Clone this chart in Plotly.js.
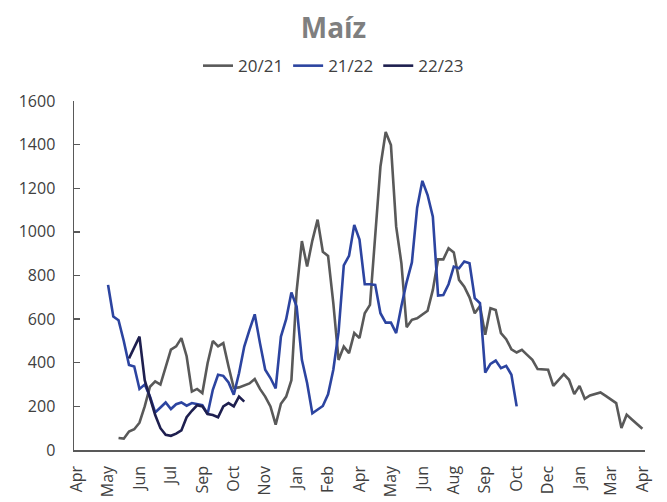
<!DOCTYPE html>
<html>
<head>
<meta charset="utf-8">
<script src="https://cdn.plot.ly/plotly-3.0.1.min.js"></script>
<style>html,body{margin:0;padding:0;background:#fff;}#chart{width:667px;height:502px;}</style>
</head>
<body>
<div id="chart"></div>
<script>
// Weekly categories (109 weeks), labels shown every 6 weeks
const tickLabels = ['Apr','May','Jun','Jul','Sep','Oct','Nov','Jan','Feb','Apr','May','Jun','Aug','Sep','Oct','Dec','Jan','Mar','Apr'];
const weekCount = 109;
const labelEvery = 6;
const tickEvery = 10;

const seriesNames = ['20/21','21/22','22/23'];
const start2021 = 8;
const values2021 = [55,52,85,95,125,200,290,315,300,383,
  460,475,513,430,268,280,261,398,500,475,
  490,383,284,287,295,305,325,280,245,200,
  116,212,245,320,730,958,841,960,1056,909,
  890,673,413,474,444,536,513,627,665,978,
  1300,1458,1398,1024,856,563,597,604,619,638,
  734,874,874,925,906,780,749,700,627,660,
  528,650,642,536,508,462,447,459,436,413,
  371,370,368,294,320,348,322,256,294,235,
  250,258,264,248,232,215,101,162,140,118,97];
const start2122 = 6;
const values2122 = [757,612,595,500,390,383,280,300,245,172,
  195,218,188,210,218,203,215,210,205,165,
  276,345,340,310,253,352,474,551,622,490,
  368,330,282,520,600,722,658,413,307,168,
  185,202,255,368,540,846,890,1032,965,760,
  760,757,627,584,584,536,660,770,860,1110,
  1234,1169,1070,708,710,760,841,833,864,856,
  696,673,355,395,410,375,386,345,200];
const start2223 = 10;
const values2223 = [420,470,520,320,240,160,100,70,65,75,90,150,180,205,200,165,160,150,200,215,200,245,222];

const colors = ['#595959','#2c44a0','#1e1f4f'];

function mk(name, start, vals, color){
  return {x: vals.map((v,i)=>start+i), y: vals, name: name, type:'scatter', mode:'lines',
    line:{color: color, width:2.6}, hoverinfo:'skip'};
}
const data = [
  mk(seriesNames[0], start2021, values2021, colors[0]),
  mk(seriesNames[1], start2122, values2122, colors[1]),
  mk(seriesNames[2], start2223, values2223, colors[2])
];

const labelVals = tickLabels.map((t,i)=>i*labelEvery);
const tickMarkVals = [];
for(let k=tickEvery; k<weekCount; k+=tickEvery) tickMarkVals.push(k-0.5);

const axisColor = '#595959';
const xRange = [-0.5, weekCount-0.5];
const layout = {
  width:667, height:502,
  margin:{l:74, r:22, t:101, b:52, autoexpand:false},
  paper_bgcolor:'#fff', plot_bgcolor:'#fff',
  font:{family:'"Open Sans", sans-serif', color:'#404040', size:16},
  title:{text:'Maíz', font:{family:'"Open Sans", sans-serif', size:28, color:'#7f7f7f', weight:'bold'},
    x:0.5, xref:'container', xanchor:'center', y:0.944, yref:'container', yanchor:'middle'},
  showlegend:true,
  legend:{orientation:'h', x:0.5, xref:'container', xanchor:'center', y:1.1, yanchor:'middle',
    font:{size:17, color:'#404040'}, itemwidth:30, tracegroupgap:0, bgcolor:'rgba(0,0,0,0)'},
  xaxis:{range:xRange, tickmode:'array', tickvals:labelVals, ticktext:tickLabels,
    tickangle:-90, ticks:'', showgrid:false, zeroline:false, showline:true, linecolor:axisColor, linewidth:1.5,
    tickfont:{size:16, color:'#404040'}, ticklabelstandoff:8, automargin:false, fixedrange:true},
  xaxis2:{range:xRange, overlaying:'x', anchor:'y', side:'bottom', tickmode:'array', tickvals:tickMarkVals,
    ticks:'inside', ticklen:6, tickwidth:1.3, tickcolor:axisColor, showticklabels:false,
    showgrid:false, zeroline:false, showline:false, automargin:false, fixedrange:true},
  yaxis:{range:[0,1600], dtick:200, tick0:0, ticks:'inside', ticklen:6, tickwidth:1.3, tickcolor:axisColor,
    showgrid:false, zeroline:false, showline:true, linecolor:axisColor, linewidth:1.5,
    tickfont:{size:16, color:'#404040'}, ticklabelstandoff:14, automargin:false, fixedrange:true}
};
Plotly.newPlot('chart', data, layout, {staticPlot:true, displayModeBar:false});
</script>
</body>
</html>
